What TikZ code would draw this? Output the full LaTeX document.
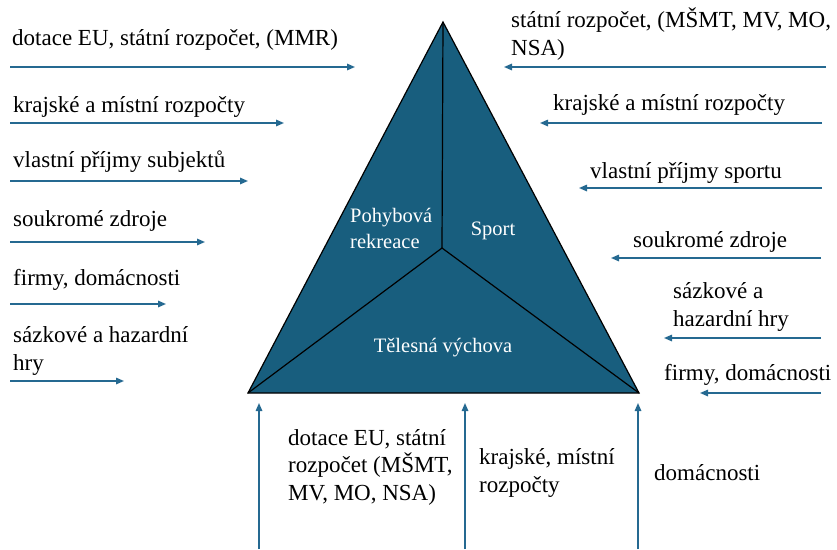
\documentclass[tikz,border=0pt]{standalone}
\usepackage{fontspec}
\setmainfont{Liberation Serif}
\usetikzlibrary{arrows.meta}
\definecolor{trifill}{RGB}{24,94,126}
\definecolor{arrcol}{RGB}{37,105,145}
\tikzset{
  flow/.style={draw=arrcol, line width=1.5pt, -{Triangle[length=8pt,width=6.5pt]}},
  lab/.style={anchor=base west, inner sep=0pt, font=\fontsize{23}{27.5}\selectfont, align=left},
  inlab/.style={anchor=base, inner sep=0pt, font=\fontsize{20.5}{26}\selectfont, text=white, align=center},
  part/.style={draw=black, line width=1.2pt},
}
\begin{document}
\begin{tikzpicture}[x=1pt,y=-1pt]
\useasboundingbox (0,0) rectangle (837,549);
% triangle
\coordinate (A) at (443,22);
\coordinate (BL) at (248,393);
\coordinate (BR) at (639,393);
\coordinate (C) at (442,248);
\filldraw[fill=trifill, draw=black, line width=1.2pt, line join=miter] (A) -- (BR) -- (BL) -- cycle;
\draw[part] (A) -- (C);
\draw[part] (BL) -- (C) -- (BR);
\node[inlab, anchor=base west, align=left] (pr) at (350,248) {Pohybová\\rekreace};
\node[inlab] (sp) at (493,235) {Sport};
\node[inlab] (tv) at (443,352) {Tělesná výchova};

% left side
\coordinate (l1s) at (10,67);  \coordinate (l1e) at (355,67);
\coordinate (l2s) at (10,123); \coordinate (l2e) at (284,123);
\coordinate (l3s) at (10,181); \coordinate (l3e) at (248,181);
\coordinate (l4s) at (10,242); \coordinate (l4e) at (205,242);
\coordinate (l5s) at (10,304); \coordinate (l5e) at (166,304);
\coordinate (l6s) at (10,381); \coordinate (l6e) at (124,381);
\foreach \i in {1,...,6} {\draw[flow] (l\i s) -- (l\i e);}
\node[lab] (t1) at (12,45) {dotace EU, státní rozpočet, (MMR)};
\node[lab] (t2) at (13,112) {krajské a místní rozpočty};
\node[lab] (t3) at (13,167) {vlastní příjmy subjektů};
\node[lab] (t4) at (13,226) {soukromé zdroje};
\node[lab] (t5) at (13,285) {firmy, domácnosti};
\node[lab] (t6) at (13,370) {sázkové a hazardní\\hry};

% right side
\coordinate (r1s) at (826,67);  \coordinate (r1e) at (504,67);
\coordinate (r2s) at (822,123); \coordinate (r2e) at (540,123);
\coordinate (r3s) at (822,188); \coordinate (r3e) at (579,188);
\coordinate (r4s) at (821,258); \coordinate (r4e) at (611,258);
\coordinate (r5s) at (821,338); \coordinate (r5e) at (664,338);
\coordinate (r6s) at (821,393); \coordinate (r6e) at (700,393);
\foreach \i in {1,...,6} {\draw[flow] (r\i s) -- (r\i e);}
\node[lab] (u1) at (511,55) {státní rozpočet, (MŠMT, MV, MO,\\NSA)};
\node[lab] (u2) at (553,110) {krajské a místní rozpočty};
\node[lab] (u3) at (590,178) {vlastní příjmy sportu};
\node[lab] (u4) at (633,247) {soukromé zdroje};
\node[lab] (u5) at (673,326) {sázkové a\\hazardní hry};
\node[lab] (u6) at (664,380) {firmy, domácnosti};

% bottom
\coordinate (b1s) at (259,549); \coordinate (b1e) at (259,403);
\coordinate (b2s) at (465,549); \coordinate (b2e) at (465,403);
\coordinate (b3s) at (638,549); \coordinate (b3e) at (638,403);
\foreach \i in {1,2,3} {\draw[flow] (b\i s) -- (b\i e);}
\node[lab] (v1) at (288,500) {dotace EU, státní\\rozpočet (MŠMT,\\MV, MO, NSA)};
\node[lab] (v2) at (479,492) {krajské, místní\\rozpočty};
\node[lab] (v3) at (654,480) {domácnosti};
\end{tikzpicture}
\end{document}
